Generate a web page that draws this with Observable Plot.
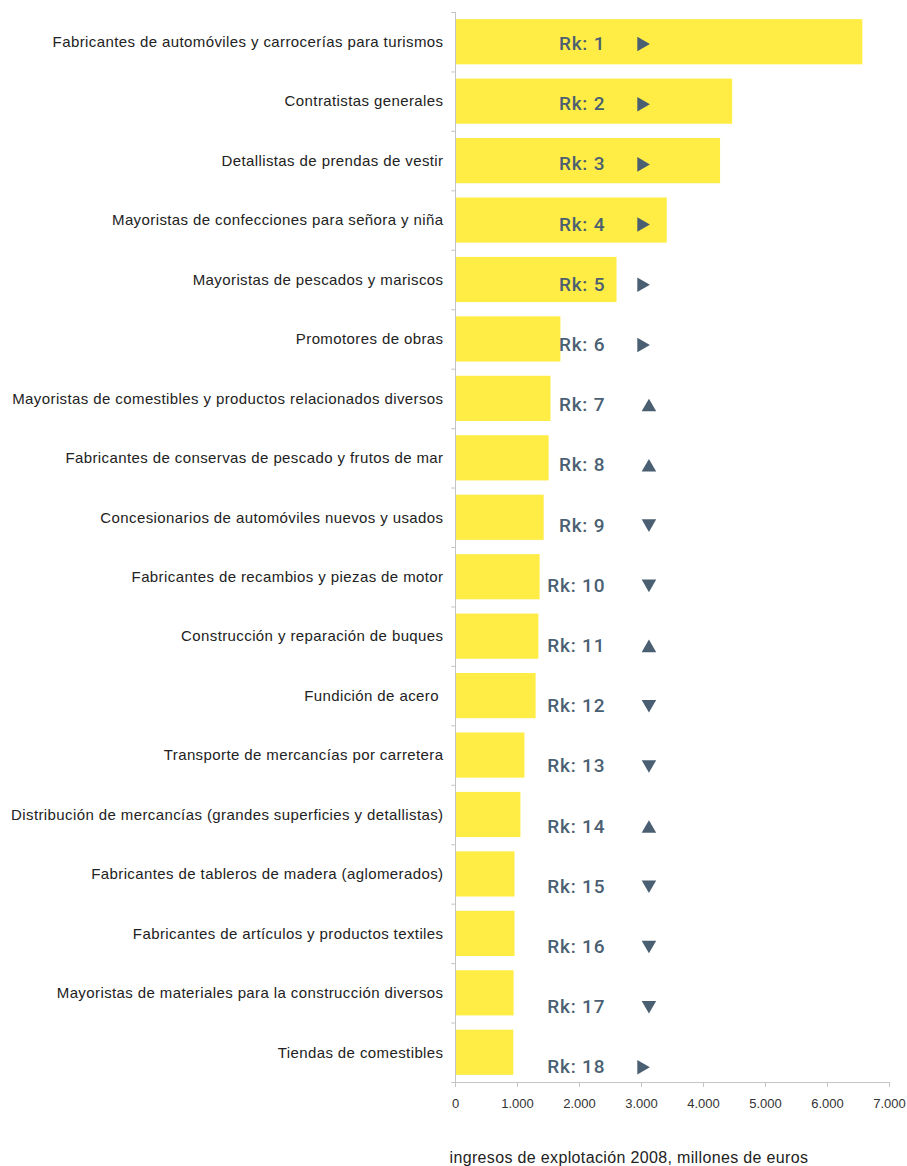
<!DOCTYPE html>
<html>
<head>
<meta charset="utf-8">
<script src="https://cdn.jsdelivr.net/npm/d3@7"></script>
<script src="https://cdn.jsdelivr.net/npm/@observablehq/plot@0.6"></script>
<style>
  html, body { margin: 0; padding: 0; background: #ffffff; }
  #chart { position: relative; width: 907px; height: 1166px; }
  #chart svg { display: block; position: absolute; left: 0; top: 0; }
</style>
</head>
<body>
<div id="chart"></div>
<script>
const categories = [
  "Fabricantes de automóviles y carrocerías para turismos",
  "Contratistas generales",
  "Detallistas de prendas de vestir",
  "Mayoristas de confecciones para señora y niña",
  "Mayoristas de pescados y mariscos",
  "Promotores de obras",
  "Mayoristas de comestibles y productos relacionados diversos",
  "Fabricantes de conservas de pescado y frutos de mar",
  "Concesionarios de automóviles nuevos y usados",
  "Fabricantes de recambios y piezas de motor",
  "Construcción y reparación de buques",
  "Fundición de acero\u00a0",
  "Transporte de mercancías por carretera",
  "Distribución de mercancías (grandes superficies y detallistas)",
  "Fabricantes de tableros de madera (aglomerados)",
  "Fabricantes de artículos y productos textiles",
  "Mayoristas de materiales para la construcción diversos",
  "Tiendas de comestibles"
];
const ingresos = [6570, 4470, 4275, 3415, 2605, 1700, 1540, 1510, 1430, 1365, 1345, 1300, 1120, 1055, 960, 960, 945, 940];
const ranks = [1, 2, 3, 4, 5, 6, 7, 8, 9, 10, 11, 12, 13, 14, 15, 16, 17, 18];
const tendencias = ["right", "right", "right", "right", "right", "right", "up", "up", "down", "down", "up", "down", "down", "up", "down", "down", "down", "right"];
const xTicks = [0, 1000, 2000, 3000, 4000, 5000, 6000, 7000];
const axisTitle = "ingresos de explotación 2008, millones de euros";

const rows = categories.map((c, i) => ({cat: c, value: ingresos[i], rank: ranks[i], trend: tendencias[i]}));

const fmt = d => d3.format(",")(d).replace(/,/g, ".");
const labelColor = "#4b5f72";
const axisColor = "#c4c4c4";
const fontFamily = "'Liberation Sans', Arial, sans-serif";
const step = (1082 - 12) / 18;

// Main chart: bars and axes
const chart = Plot.plot({
  width: 907,
  height: 1166,
  marginLeft: 455,
  marginRight: 18,
  marginTop: 12,
  marginBottom: 84,
  style: {fontFamily, background: "#ffffff"},
  x: {domain: [0, 7000]},
  y: {domain: categories, paddingInner: 0.24, paddingOuter: 0.12, align: 0.5, round: false},
  marks: [
    Plot.barX(rows, {x: "value", y: "cat", fill: "#FFEC44"}),
    Plot.ruleX([0], {stroke: axisColor, strokeWidth: 1}),
    Plot.ruleY(categories, {y: d => d, x1: -60, x2: 0, dy: -step / 2, stroke: axisColor}),
    Plot.ruleY([categories[categories.length - 1]], {y: d => d, x1: -60, x2: 7000, dy: step / 2, stroke: axisColor}),
    Plot.axisX({ticks: xTicks, tickFormat: fmt, tickSize: 5, tickPadding: 11, stroke: axisColor, fill: "#333", fontSize: 13, label: null}),
    Plot.axisY({tickSize: 0, tickPadding: 12, fontSize: 15, fill: "#222", label: null}),
    Plot.text([axisTitle], {text: d => d, frameAnchor: "bottom-left", textAnchor: "start", dx: -6, dy: 80, fontSize: 16, fill: "#222", className: "axis-title"})
  ]
});

// Overlay: rank labels and trend arrows on their own point scale
const overlay = Plot.plot({
  width: 907,
  height: 1166,
  marginLeft: 455,
  marginRight: 18,
  marginTop: 43.5,
  marginBottom: 99.2,
  style: {fontFamily, background: "transparent"},
  x: {domain: [0, 7000], axis: null},
  y: {type: "point", domain: categories, padding: 0, round: false, axis: null},
  marks: [
    Plot.text(rows, {x: () => 2400, y: "cat", text: d => "Rk: " + d.rank, textAnchor: "end", dx: 1, fontSize: 19, fontWeight: 500, fontFamily: "Roboto, sans-serif", fill: labelColor, className: "rank-label"}),
    Plot.dot(rows.filter(d => d.trend === "right"), {x: () => 3000, y: "cat", symbol: "triangle", rotate: 90, r: 5.4, fill: labelColor, stroke: null}),
    Plot.dot(rows.filter(d => d.trend === "up"), {x: () => 3120, y: "cat", symbol: "triangle", rotate: 0, r: 5.4, fill: labelColor, stroke: null, dy: 2}),
    Plot.dot(rows.filter(d => d.trend === "down"), {x: () => 3120, y: "cat", symbol: "triangle", rotate: 180, r: 5.4, fill: labelColor, stroke: null, dy: -2})
  ]
});
overlay.style.pointerEvents = "none";
const host = document.getElementById("chart");
host.append(chart);
host.append(overlay);
d3.select(chart).selectAll(".axis-title text").style("letter-spacing", "0.35px");
d3.select(chart).selectAll('g[aria-label="y-axis tick label"] text').style("letter-spacing", "0.4px");
d3.select(overlay).selectAll(".rank-label text").style("letter-spacing", "0.8px");
</script>
</body>
</html>
